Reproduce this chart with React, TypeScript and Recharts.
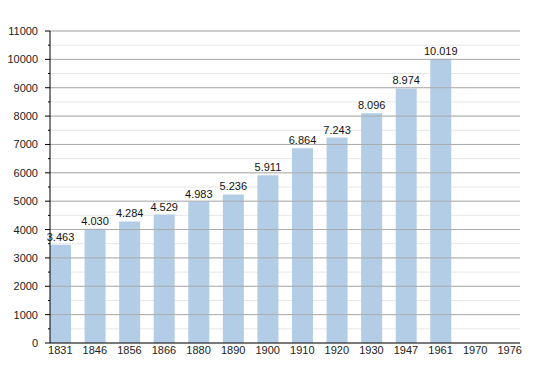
import React from "react";
import {
  BarChart,
  Bar,
  XAxis,
  YAxis,
  CartesianGrid,
  ReferenceLine,
  LabelList,
} from "recharts";

const years = ["1831", "1846", "1856", "1866", "1880", "1890", "1900", "1910", "1920", "1930", "1947", "1961", "1970", "1976"];
const population = [3463, 4030, 4284, 4529, 4983, 5236, 5911, 6864, 7243, 8096, 8974, 10019, null, null];
const yTicks = [0, 500, 1000, 1500, 2000, 2500, 3000, 3500, 4000, 4500, 5000, 5500, 6000, 6500, 7000, 7500, 8000, 8500, 9000, 9500, 10000, 10500, 11000];
const majorTicks = [1000, 2000, 3000, 4000, 5000, 6000, 7000, 8000, 9000, 10000, 11000];

const data = years.map((year, i) => ({ year, pop: population[i] }));

const font = "'Liberation Sans', Arial, sans-serif";

const fmt = (v: any) => (v == null ? "" : Number(v).toLocaleString("de-DE"));

const YTick = (props: any) => {
  const { x, y, payload } = props;
  const major = payload.value % 1000 === 0;
  return (
    <g>
      <line x1={x - (major ? 5 : 2)} x2={x} y1={y} y2={y} stroke="#000" />
      {major && (
        <text x={x - 12} y={y} dy={4} textAnchor="end" fontSize={11} fill="#222" fontFamily={font}>
          {payload.value}
        </text>
      )}
    </g>
  );
};

const App = () => {
  return (
    <div style={{ position: "absolute", left: 0, top: 0, width: 550, height: 373, background: "#fff" }}>
      <BarChart
        width={550}
        height={373}
        data={data}
        margin={{ top: 31, right: 30, bottom: 0, left: 0 }}
        barSize={21}
      >
        <CartesianGrid horizontal vertical={false} stroke="#e6e6e6" />
        {majorTicks.map((t) => (
          <ReferenceLine key={t} y={t} stroke="#ababab" />
        ))}
        <XAxis
          dataKey="year"
          height={30}
          padding={{ left: -7, right: -7 }}
          axisLine={{ stroke: "#000" }}
          tickLine={false}
          tickSize={0}
          tick={{ fontSize: 11, fill: "#222", fontFamily: font }}
          interval={0}
          tickMargin={3}
        />
        <YAxis
          width={50}
          domain={[0, 11000]}
          ticks={yTicks}
          interval={0}
          axisLine={{ stroke: "#000" }}
          tickLine={false}
          tickSize={0}
          tickMargin={0}
          tick={<YTick />}
        />
        <Bar dataKey="pop" fill="#b3cde6" isAnimationActive={false}>
          <LabelList
            dataKey="pop"
            position="top"
            formatter={fmt}
            style={{ fontSize: 11, fill: "#111", fontFamily: font }}
            offset={4}
          />
        </Bar>
      </BarChart>
    </div>
  );
};

export default App;
